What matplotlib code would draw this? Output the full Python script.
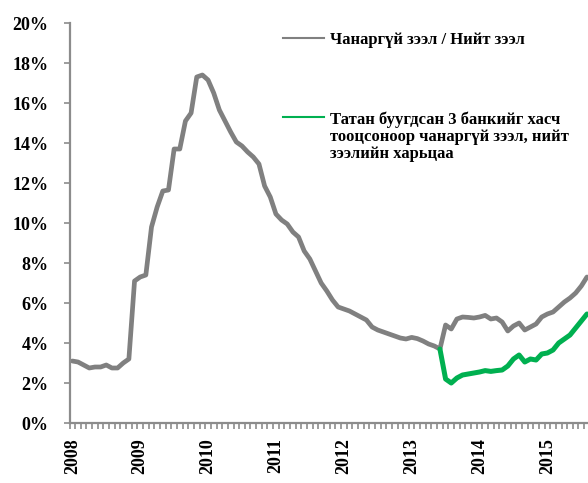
import matplotlib
matplotlib.use("Agg")
import matplotlib.pyplot as plt
from matplotlib.lines import Line2D
from matplotlib.ticker import MultipleLocator, FixedLocator, FuncFormatter

plt.rcParams['font.family'] = ['Liberation Serif', 'DejaVu Serif']
plt.rcParams['font.weight'] = 'bold'

# monthly, Jan 2008 .. Aug 2015 (%)
years = ['2008', '2009', '2010', '2011', '2012', '2013', '2014', '2015']
npl_ratio = [
    3.10, 3.05, 2.90, 2.75, 2.80, 2.80, 2.90, 2.75, 2.75, 3.00, 3.20, 7.10,
    7.30, 7.40, 9.80, 10.80, 11.60, 11.65, 13.70, 13.70, 15.10, 15.50, 17.30, 17.40,
    17.15, 16.50, 15.65, 15.10, 14.55, 14.05, 13.85, 13.55, 13.30, 12.95, 11.85, 11.30,
    10.45, 10.15, 9.95, 9.55, 9.30, 8.60, 8.20, 7.60, 7.00, 6.60, 6.15, 5.80,
    5.70, 5.60, 5.45, 5.30, 5.15, 4.80, 4.65, 4.55, 4.45, 4.35, 4.25, 4.20,
    4.28, 4.22, 4.10, 3.95, 3.85, 3.70, 4.90, 4.70, 5.20, 5.30, 5.28, 5.25,
    5.30, 5.38, 5.20, 5.25, 5.05, 4.60, 4.85, 5.00, 4.65, 4.80, 4.95, 5.30,
    5.45, 5.55, 5.80, 6.05, 6.25, 6.50, 6.85, 7.30,
]
# excluding 3 banks in resolution, from Jun 2013
excl_start = 65
npl_excl3 = [
    3.70, 2.20, 2.00, 2.25, 2.40, 2.45, 2.50, 2.55, 2.62, 2.58, 2.62, 2.65,
    2.85, 3.20, 3.40, 3.05, 3.20, 3.15, 3.45, 3.50, 3.65, 4.00, 4.20, 4.40,
    4.75, 5.10, 5.45,
]
label_npl = 'Чанаргүй зээл / Нийт зээл'
label_excl = 'Татан буугдсан 3 банкийг хасч\nтооцсоноор чанаргүй зээл, нийт\nзээлийн харьцаа'

gray = '#808080'
green = '#00B050'
axis_col = '#8c8c8c'

fig = plt.figure(figsize=(5.88, 4.83), dpi=100)
ax = fig.add_axes([69.5 / 588, 60 / 483, 520.3 / 588, 400 / 483])

x_all = list(range(len(npl_ratio)))
x_excl = list(range(excl_start, excl_start + len(npl_excl3)))
ax.plot(x_all, npl_ratio, color=gray, lw=3.4, solid_joinstyle='round', solid_capstyle='round')
ax.plot(x_excl, npl_excl3, color=green, lw=3.6, solid_joinstyle='round', solid_capstyle='round')

ax.set_xlim(-0.5, len(npl_ratio) - 0.5)
ax.set_ylim(0, 20)

for s in ['top', 'right']:
    ax.spines[s].set_visible(False)
for s in ['left', 'bottom']:
    ax.spines[s].set_color(axis_col)
    ax.spines[s].set_linewidth(1.6)

ax.xaxis.set_major_locator(FixedLocator([12 * k for k in range(len(years))]))
ax.set_xticklabels(years, rotation=90, fontsize=13)
ax.xaxis.set_minor_locator(FixedLocator([k - 0.5 for k in range(len(npl_ratio) + 1)]))
ax.tick_params(axis='x', which='major', length=0, pad=11)
ax.tick_params(axis='x', which='minor', length=4, width=1.2, color=axis_col, direction='out')

ax.yaxis.set_major_locator(MultipleLocator(2))
ax.yaxis.set_major_formatter(FuncFormatter(lambda v, p: f'{v:.0f}%'))
ax.tick_params(axis='y', length=4, width=1.2, color=axis_col, pad=11, labelsize=13)

# legend
fig.add_artist(Line2D([283 / 588, 324 / 588], [1 - 38 / 483] * 2, color=gray, lw=1.5))
fig.text(330 / 588, 1 - 40 / 483, label_npl, ha='left', va='center', fontsize=12)
fig.add_artist(Line2D([283 / 588, 324 / 588], [1 - 117 / 483] * 2, color=green, lw=1.5))
fig.text(330 / 588, 1 - 111 / 483, label_excl, ha='left', va='top', fontsize=12, linespacing=1.1)

fig.savefig('out.png', dpi=100)
